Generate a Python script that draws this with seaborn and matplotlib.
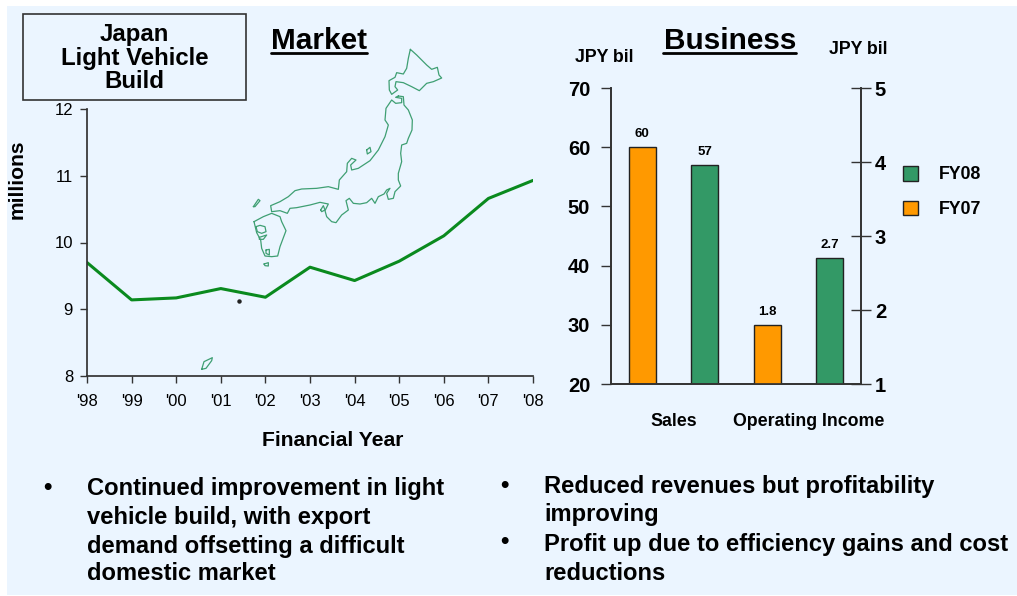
import numpy as np
import pandas as pd
import matplotlib
matplotlib.use('Agg')
import matplotlib.pyplot as plt
from matplotlib.patches import Rectangle
import seaborn as sns

# market chart
years = ["'98", "'99", "'00", "'01", "'02", "'03", "'04", "'05", "'06", "'07", "'08"]
build = [9.70, 9.14, 9.17, 9.31, 9.18, 9.63, 9.43, 9.72, 10.10, 10.66, 10.93]
market_ticks = [8, 9, 10, 11, 12]

# business chart
categories = ['Sales', 'Operating Income']
fy07 = [60, 1.8]
fy08 = [57, 2.7]
left_ticks = [20, 30, 40, 50, 60, 70]
right_ticks = [1, 2, 3, 4, 5]

left_bullets = ['Continued improvement in light', 'vehicle build, with export',
                'demand offsetting a difficult', 'domestic market']
right_bullets = ['Reduced revenues but profitability', 'improving',
                 'Profit up due to efficiency gains and cost', 'reductions']

# map outlines
hokkaido = [(541,28),(550,36),(560,45),(575,60),(590,75),(605,88),(622,82),(627,105),(635,114),(610,125),(590,130),
            (568,152),(545,140),(520,128),(498,125),(495,140),(503,150),(485,163),(478,150),(477,122),(495,112),
            (500,98),(520,102),(530,85),(535,55),(541,28)]
honshu = [(505,168),(520,170),(522,195),(535,210),(547,240),(546,270),(535,295),(530,310),(515,315),(512,340),
          (515,365),(505,400),(505,420),(512,438),(495,455),(490,475),(475,478),(470,460),(480,445),(470,450),
          (462,462),(445,470),(435,490),(425,475),(410,488),(390,492),(370,490),(358,475),(348,482),(355,510),
          (335,525),(318,548),(305,545),(290,530),(285,512),(295,492),(270,487),(240,495),(200,503),(180,505),
          (172,520),(150,512),(125,515),(122,497),(150,485),(175,470),(195,452),(215,447),(260,445),(295,440),
          (325,448),(328,420),(350,395),(352,370),(365,355),(378,360),(362,375),(365,390),(385,385),(420,362),
          (445,330),(465,290),(475,255),(465,240),(468,205),(485,180),(497,190),(515,188),(515,175),(497,172),(505,168)]
kyushu = [(72,545),(100,530),(125,520),(150,530),(155,545),(168,572),(150,620),(143,648),(125,650),(105,648),
          (95,625),(92,600),(80,578),(72,545)]
kyushu_bay1 = [(78,560),(90,556),(105,560),(108,575),(95,580),(82,575),(78,560)]
kyushu_bay2 = [(88,592),(110,585),(100,598),(88,598),(88,592)]
kyushu_bay3 = [(108,630),(118,628),(118,645),(108,640),(108,630)]
sado = [(410,330),(420,322),(423,335),(412,342),(410,330)]
oki = [(70,500),(85,478),(90,482),(75,500),(70,500)]
awaji = [(272,510),(280,497),(285,510),(275,515),(272,510)]
tanega = [(102,672),(115,668),(115,678),(105,677),(102,672)]
okinawa = [(65,268),(72,245),(97,233),(95,242),(78,265),(65,268)]

GREEN = '#339966'
ORANGE = '#FF9900'
PANEL = '#EBF5FF'
DARK = '#333333'


def axes_px(fig, x0, y0, x1, y1):
    return fig.add_axes([x0 / 1017, 1 - y1 / 596, (x1 - x0) / 1017, (y1 - y0) / 596])


sns.set_theme(style='ticks')
plt.rcParams['font.family'] = ['Liberation Sans', 'DejaVu Sans']
plt.rcParams['axes.edgecolor'] = DARK
plt.rcParams['text.color'] = 'black'

fig = plt.figure(figsize=(10.17, 5.96), dpi=100, facecolor='white')

# full figure layer, in pixels, for panel, map and free text
bg = fig.add_axes([0, 0, 1, 1], zorder=0)
bg.set_xlim(0, 1017)
bg.set_ylim(596, 0)
bg.axis('off')
bg.add_patch(Rectangle((7, 6), 1010, 589, fc=PANEL, ec='none'))
bg.add_patch(Rectangle((23, 14), 223, 86, fc=PANEL, ec=DARK, lw=1.2))
bg.text(134.5, 58, 'Japan\nLight Vehicle\nBuild', ha='center', va='center', fontsize=17.3,
        fontweight='bold', linespacing=1.02)

bg.text(319, 41, 'Market', ha='center', va='center', fontsize=21.4, fontweight='bold')
bg.plot([271, 367], [52.5, 52.5], color='black', lw=2)
bg.text(730, 41, 'Business', ha='center', va='center', fontsize=21.4, fontweight='bold')
bg.plot([663, 796], [53, 53], color='black', lw=2)

for shape in [hokkaido, honshu, kyushu, kyushu_bay1, kyushu_bay2, kyushu_bay3, sado, oki, awaji, tanega]:
    pts = np.array(shape, dtype=float)
    bg.plot(pts[:, 0] / 3 + 230, pts[:, 1] / 3 + 40, color='#3F9F73', lw=0.9)
pts = np.array(okinawa, dtype=float)
bg.plot(pts[:, 0] / 3 + 180, pts[:, 1] / 3 + 280, color='#3F9F73', lw=0.9)
bg.plot([239.3], [300.7], 'o', color='#222222', ms=2.2)

bg.text(17, 179, 'millions', rotation=90, ha='center', va='center', fontsize=15.2, fontweight='bold')
bg.text(332.5, 440.5, 'Financial Year', ha='center', va='center', fontsize=15.2, fontweight='bold')
bg.text(604.5, 58, 'JPY bil', ha='center', va='center', fontsize=12.8, fontweight='bold')
bg.text(858, 50, 'JPY bil', ha='center', va='center', fontsize=12.8, fontweight='bold')
bg.text(673.5, 421, categories[0], ha='center', va='center', fontsize=12.8, fontweight='bold')
bg.text(809, 421, categories[1], ha='center', va='center', fontsize=12.8, fontweight='bold')

for y, line in zip([489, 517.5, 546, 574], left_bullets):
    bg.text(87, y, line, ha='left', va='center', fontsize=17.15, fontweight='bold')
for y, line in zip([487, 515, 544, 573], right_bullets):
    bg.text(544, y, line, ha='left', va='center', fontsize=17.15, fontweight='bold')
bg.text(47, 487, '•', ha='center', va='center', fontsize=17.3, fontweight='bold')
bg.text(504, 485, '•', ha='center', va='center', fontsize=17.3, fontweight='bold')
bg.text(504, 542, '•', ha='center', va='center', fontsize=17.3, fontweight='bold')

# market line
ax1 = axes_px(fig, 87, 109, 533, 376)
ax1.patch.set_alpha(0)
market = pd.DataFrame({'year': years, 'build': build})
sns.lineplot(data=market, x='year', y='build', color='#0A8A1E', lw=2.2, ax=ax1)
ax1.set_xlim(0, len(years) - 1)
ax1.set_ylim(8, 12)
ax1.set_yticks(market_ticks)
ax1.set_xlabel('')
ax1.set_ylabel('')
ax1.tick_params(labelsize=12, length=5, width=1, color=DARK, labelcolor='black', pad=5)
ax1.tick_params(axis='x', pad=8)
sns.despine(ax=ax1)

# business bars, sales on the left scale, income on the right
ax2 = axes_px(fig, 611, 88, 861, 384)
ax2.patch.set_alpha(0)
sales = pd.DataFrame({'cat': categories * 2,
                      'year': ['FY07', 'FY07', 'FY08', 'FY08'],
                      'val': [fy07[0], np.nan, fy08[0], np.nan]})
income = pd.DataFrame({'cat': categories * 2,
                       'year': ['FY07', 'FY07', 'FY08', 'FY08'],
                       'val': [np.nan, fy07[1], np.nan, fy08[1]]})
pal = {'FY07': ORANGE, 'FY08': GREEN}
sns.barplot(data=sales, x='cat', y='val', hue='year', palette=pal, width=1, gap=0.57, saturation=1,
            edgecolor='#222222', linewidth=1, legend=False, ax=ax2)
ax3 = ax2.twinx()
ax3.patch.set_alpha(0)
sns.barplot(data=income, x='cat', y='val', hue='year', palette=pal, width=1, gap=0.57, saturation=1,
            edgecolor='#222222', linewidth=1, legend=False, ax=ax3)
ax2.set_xlim(-0.5, 1.5)
ax2.set_ylim(20, 70)
ax3.set_ylim(1, 5)
ax2.set_yticks(left_ticks)
ax3.set_yticks(right_ticks)
ax2.set_xticks([])
ax2.set_xlabel('')
ax2.set_ylabel('')
ax3.set_ylabel('')
ax2.tick_params(axis='y', labelsize=14.5, length=7, width=1, color=DARK, labelcolor='black', pad=8)
ax3.tick_params(axis='y', labelsize=14.5, length=14, width=1, color=DARK, labelcolor='black', pad=3,
                direction='inout')
ax3.yaxis.tick_right()
for lab in ax2.get_yticklabels() + ax3.get_yticklabels():
    lab.set_fontweight('bold')
ax2.spines['top'].set_visible(False)
ax3.spines['top'].set_visible(False)

for ax, fmt in [(ax2, '%.0f'), (ax3, '%.1f')]:
    for cont in ax.containers:
        ax.bar_label(cont, fmt=fmt, padding=5, fontsize=9.5, fontweight='bold')

# legend, FY08 on top like the original
handles = [Rectangle((0, 0), 1, 1, fc=GREEN, ec='#222222', lw=1),
           Rectangle((0, 0), 1, 1, fc=ORANGE, ec='#222222', lw=1)]
bg.legend(handles, ['FY08', 'FY07'], loc='center left', bbox_to_anchor=(903 / 1017, 1 - 192 / 596),
          bbox_transform=fig.transFigure, frameon=False,
          prop={'weight': 'bold', 'size': 12.8}, handlelength=0.82, handleheight=0.9,
          handletextpad=1.17, labelspacing=0.97, borderpad=0, borderaxespad=0)

fig.savefig('out.png', dpi=100)
